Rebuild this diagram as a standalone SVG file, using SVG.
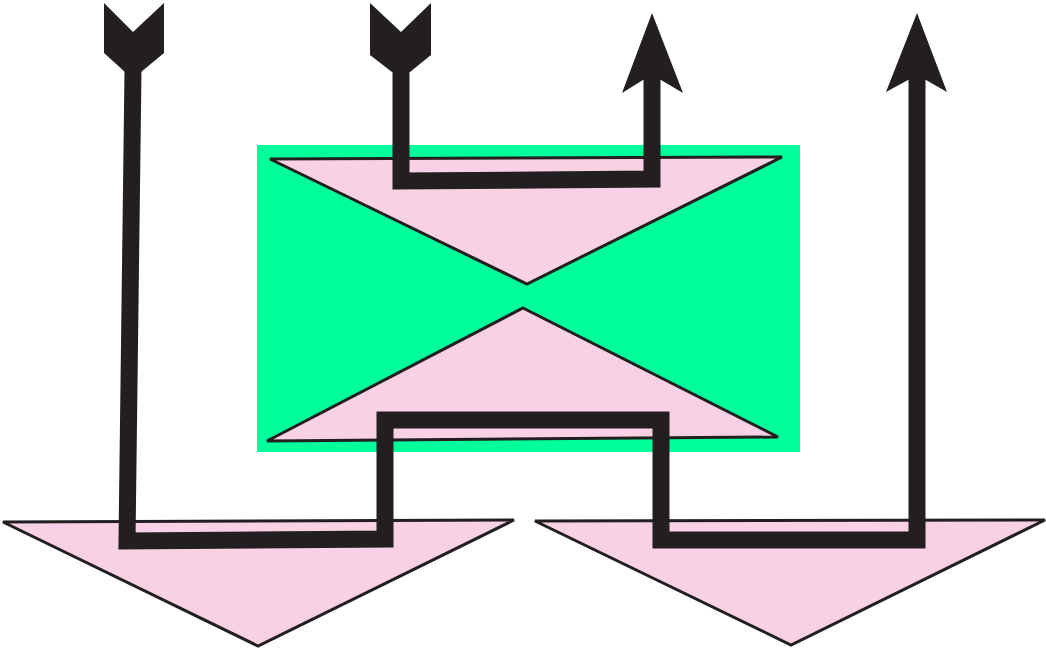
<svg xmlns="http://www.w3.org/2000/svg" width="1046" height="649" viewBox="0 0 1046 649">
<style>
.tri{fill:#f8d1e4;stroke:#231f20;stroke-width:3;stroke-linejoin:miter}
.wire{fill:none;stroke:#231f20;stroke-width:17;stroke-linejoin:miter;stroke-linecap:butt}
.head{fill:#231f20}
</style>
<rect width="1046" height="649" fill="#ffffff"/>
<g id="block">
<rect x="257" y="145" width="543" height="307" fill="#00fe9a"/>
</g>
<g id="tri-top">
<polygon class="tri" points="270,159 782,157 527,284"/>
</g>
<g id="tri-mid">
<polygon class="tri" points="523,308 778,437 267,441"/>
</g>
<g id="tri-bottom-left">
<polygon class="tri" points="3,522 514,520 258,646"/>
</g>
<g id="tri-bottom-right">
<polygon class="tri" points="535,521 1045,520 791,645"/>
</g>
<g id="connectors">
<path class="wire" d="M133,70 L127,541 L385,539 L385,420 L661,420 L661,540 L917,540 L917,76"/>
<path class="wire" d="M401,70 L401,181 L652,179 L652,76"/>
<polygon class="head" points="104,3 133,32 164,3 164,53 141,72 125,72 104,53"/>
<polygon class="head" points="370,3 401,32 431,3 431,55 410,72 392,72 370,55"/>
<polygon class="head" points="652,13 683,93 661,80 643,80 622,93"/>
<polygon class="head" points="917,13 947,92 926,80 908,80 886,92"/>
</g>
</svg>
